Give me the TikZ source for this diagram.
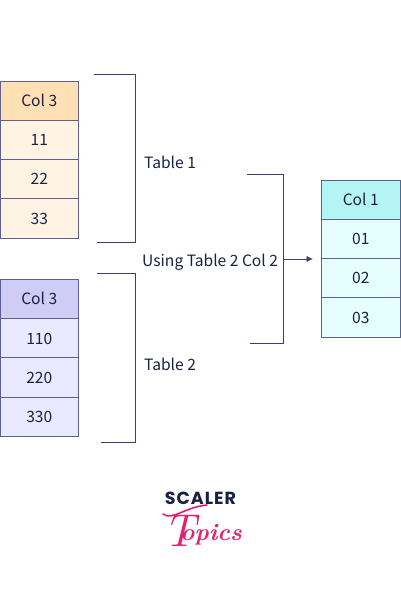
\documentclass[tikz,border=0pt]{standalone}
\usepackage{fontspec}
\setmainfont{Noto Sans CJK SC}
\newfontfamily\logofont{Poppins}
\newfontfamily\topicsfont{Latin Modern Roman}
\usetikzlibrary{arrows.meta}
\definecolor{ink}{HTML}{1B2140}
\definecolor{edge}{HTML}{5D6090}
\definecolor{brk}{HTML}{3C3F73}
\definecolor{pinkc}{HTML}{E3216F}
\definecolor{orangeH}{HTML}{FFE0B5}
\definecolor{orangeC}{HTML}{FFF4E3}
\definecolor{purpleH}{HTML}{CFCCF5}
\definecolor{purpleC}{HTML}{E9E9FF}
\definecolor{cyanH}{HTML}{B3F5F5}
\definecolor{cyanC}{HTML}{E5FEFE}
\tikzset{
  x=1pt,y=-1pt,
  cell/.style={draw=edge,line width=0.9pt,outer sep=0pt,minimum width=78.5pt,minimum height=39.4pt,inner sep=0pt,text=ink,text height=11.4pt,text depth=0pt,font=\fontsize{15.6}{18}\selectfont,anchor=north west},
  oh/.style={cell,fill=orangeH},oc/.style={cell,fill=orangeC},
  ph/.style={cell,fill=purpleH},pc/.style={cell,fill=purpleC},
  ch/.style={cell,fill=cyanH},cc/.style={cell,fill=cyanC},
  lab/.style={text=ink,font=\fontsize{15.6}{18}\selectfont,inner sep=0pt,anchor=west},
  bracket/.style={draw=brk,line width=0.95pt},
}
\begin{document}
\begin{tikzpicture}
\useasboundingbox (0,0) rectangle (400,600);
\fill[white] (0,0) rectangle (400,600);
% table 1
\node[oh] (a0) at (0,81) {Col 3};
\node[oc] (a1) at (0,120.2) {11};
\node[oc] (a2) at (0,159.4) {22};
\node[oc] (a3) at (0,198.6) {33};
% table 2
\node[ph] (b0) at (0,279.5) {Col 3};
\node[pc] (b1) at (0,318.7) {110};
\node[pc] (b2) at (0,357.9) {220};
\node[pc] (b3) at (0,397.1) {330};
% result
\node[ch] (c0) at (321.5,180) {Col 1};
\node[cc] (c1) at (321.5,219.2) {01};
\node[cc] (c2) at (321.5,258.4) {02};
\node[cc] (c3) at (321.5,297.6) {03};
% labels
\node[lab] (t1) at (144,162.3) {Table 1};
\node[lab] (t2) at (144,364.3) {Table 2};
\node[lab] (t3) at (142,261.8) {Using Table 2 Col 2};
% brackets
\coordinate (p1) at (93.5,74); \coordinate (p2) at (135,74);
\coordinate (p3) at (135,242.5); \coordinate (p4) at (97,242.5);
\draw[bracket] (p1) -- (p2) -- (p3) -- (p4);
\coordinate (q1) at (97,273.5); \coordinate (q2) at (135,273.5);
\coordinate (q3) at (135,442); \coordinate (q4) at (101,442);
\draw[bracket] (q1) -- (q2) -- (q3) -- (q4);
\coordinate (r1) at (247,174.5); \coordinate (r2) at (283.5,174.5);
\coordinate (r3) at (283.5,343); \coordinate (r4) at (250,343);
\draw[bracket] (r1) -- (r2) -- (r3) -- (r4);
\coordinate (s) at (283.5,259); \coordinate (e) at (313,259);
\draw[bracket,-{Latex[length=6.5pt,width=6.5pt]}] (s) -- (e);
% logo
\node[inner sep=0pt,text=ink,font=\logofont\bfseries\fontsize{17.5}{18}\selectfont] (logo1) at (200.5,498) {S\kern1ptC\kern1ptA\kern1ptL\kern1ptE\kern1ptR};
\node[inner sep=0pt,text=pinkc,font=\topicsfont\bfseries\itshape\fontsize{24}{26}\selectfont,anchor=base west] (logo2) at (163,540) {\raisebox{-6pt}{\mdseries\fontsize{46}{46}\selectfont T}\kern-15pt opics};
\coordinate (w1) at (163,514); \coordinate (w2) at (207,505);
\draw[pinkc,line width=1.6pt,line cap=round] (w1) .. controls (172,521) and (185,507) .. (w2);
\end{tikzpicture}
\end{document}
